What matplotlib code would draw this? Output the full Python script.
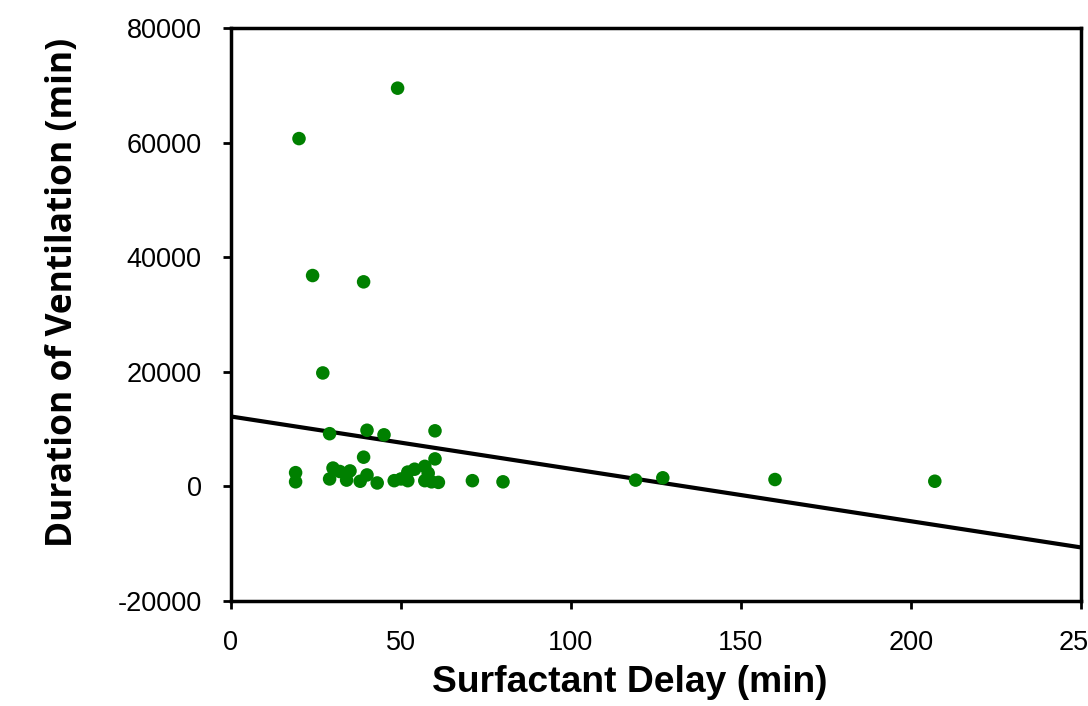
import numpy as np
import matplotlib
matplotlib.use("Agg")
import matplotlib.pyplot as plt

# Data
surfactant_delay = [20, 49, 24, 39, 27,
                    29, 40, 45, 60,
                    39, 60,
                    19, 19,
                    30, 29, 32, 35, 34, 38, 40, 43, 48, 50, 52, 52, 54, 57, 57, 58, 59, 61,
                    71, 80, 119, 127, 160, 207]
ventilation = [60700, 69500, 36800, 35700, 19800,
               9200, 9800, 9000, 9700,
               5100, 4800,
               2400, 800,
               3200, 1300, 2600, 2700, 1100, 900, 2000, 600, 1000, 1300, 2500, 1000, 3000, 3500, 1000, 2300, 800, 700,
               1000, 800, 1100, 1500, 1200, 900]

# Linear trend line as shown in the reference (intercept, slope)
trend_intercept = 12200
trend_slope = -91.4

x_ticks = [0, 50, 100, 150, 200, 250]
y_ticks = [-20000, 0, 20000, 40000, 60000, 80000]

W, H = 1088, 706
fig = plt.figure(figsize=(W / 100, H / 100), dpi=100)
ax = fig.add_axes([231 / W, (H - 601) / H, 850 / W, 573 / H])

ax.scatter(surfactant_delay, ventilation, s=95, color="#008000", edgecolors="none", zorder=3)

xs = np.array([0, 250])
ax.plot(xs, trend_slope * xs + trend_intercept, color="black", lw=3, zorder=2, solid_capstyle="butt")

ax.set_xlim(0, 250)
ax.set_ylim(-20000, 80000)
ax.set_xticks(x_ticks)
ax.set_yticks(y_ticks)
ax.set_xticklabels([str(t) for t in x_ticks], fontsize=19.5, family="Liberation Sans")
ax.set_yticklabels([str(t) for t in y_ticks], fontsize=19.5, family="Liberation Sans")
ax.tick_params(axis="both", direction="out", length=6, width=2, color="black")
ax.tick_params(axis="y", pad=15)
ax.tick_params(axis="x", pad=15)
for sp in ax.spines.values():
    sp.set_linewidth(2.5)
    sp.set_color("black")

ax.set_xlabel("Surfactant Delay (min)", fontsize=26.8, fontweight="bold", family="Liberation Sans")
ax.set_ylabel("Duration of Ventilation (min)", fontsize=25.5, fontweight="bold", family="Open Sans")
ax.xaxis.set_label_coords(0.469, -0.143)
ax.yaxis.set_label_coords(-0.198, 0.539)
ax.xaxis.label.set_va("center")
ax.yaxis.label.set_va("center")

fig.savefig("out.png", dpi=100)
